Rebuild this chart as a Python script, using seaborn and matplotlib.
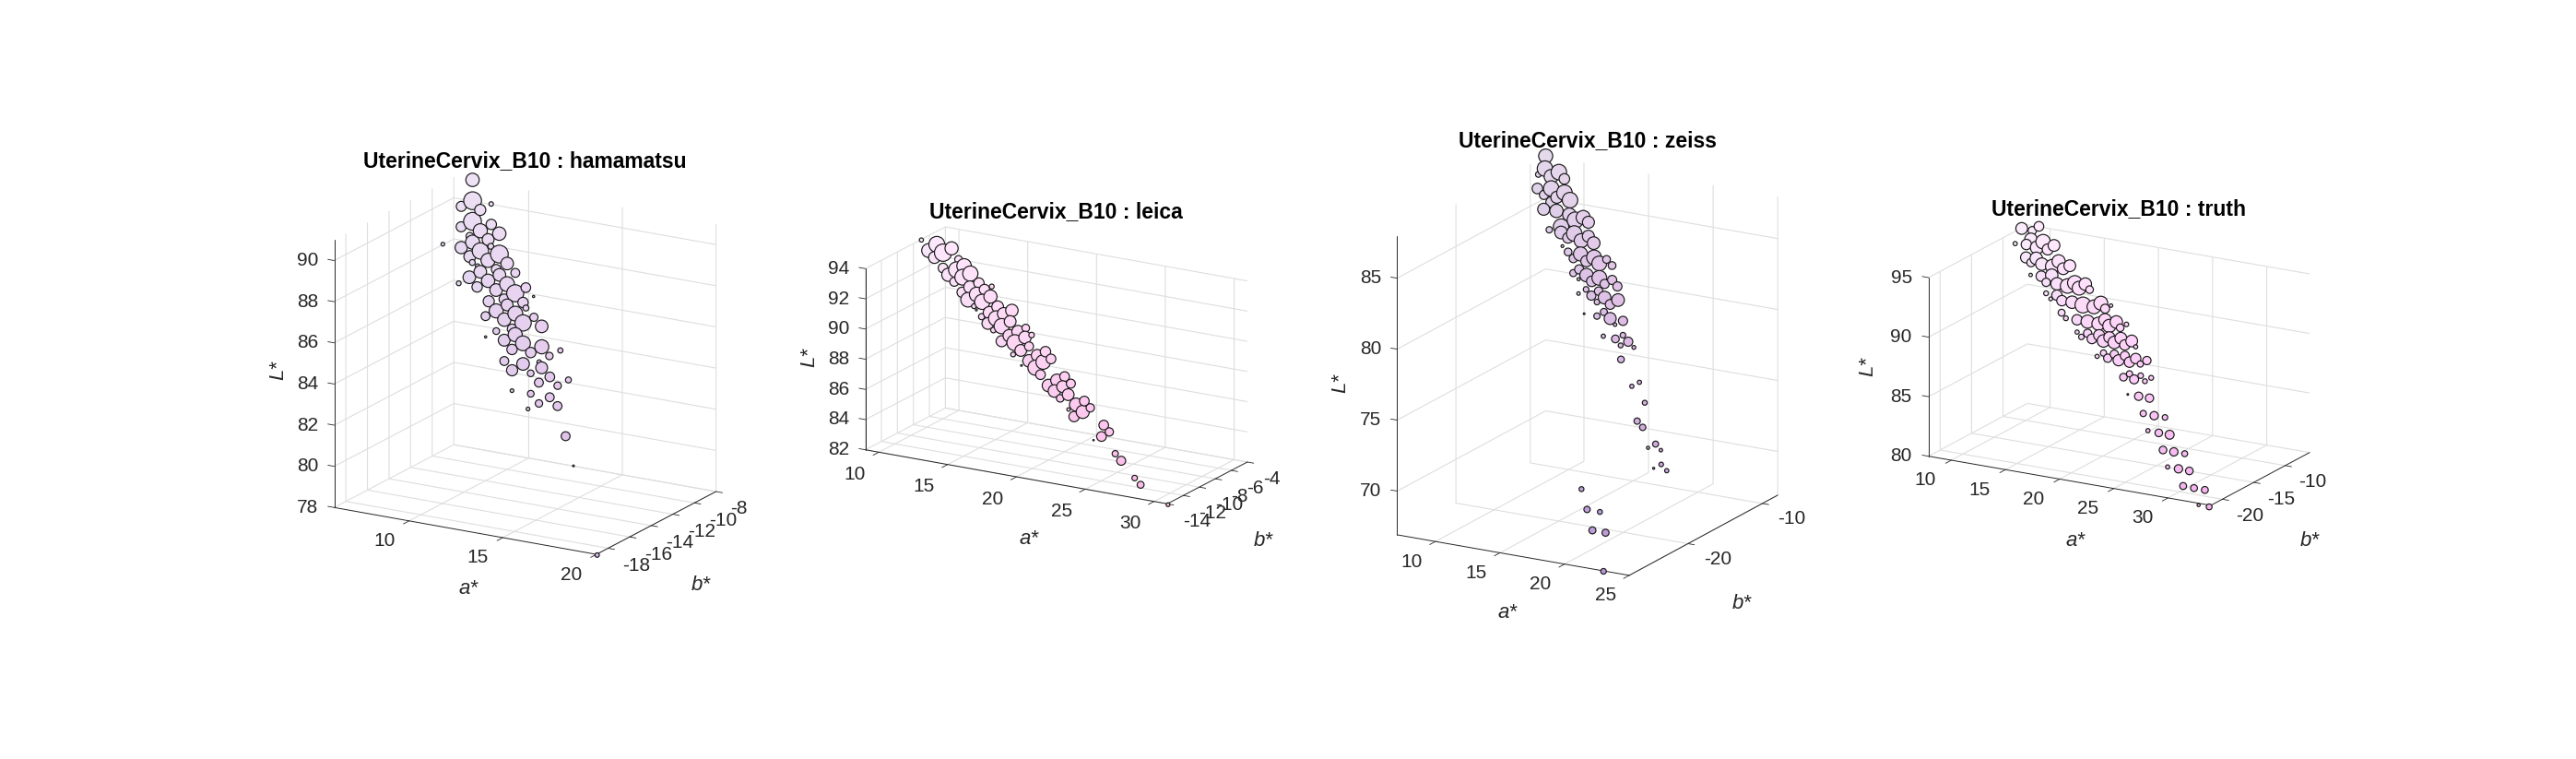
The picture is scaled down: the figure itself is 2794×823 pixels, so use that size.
import numpy as np
import matplotlib
matplotlib.use('Agg')
import matplotlib.pyplot as plt
import seaborn as sns
from mpl_toolkits.mplot3d import proj3d

W, H = 2794, 823
sns.set_theme(style='white', rc={'grid.color': '#dedede', 'grid.linewidth': 0.8, 'xtick.color': '#262626',
                                 'ytick.color': '#262626', 'axes.edgecolor': '#262626',
                                 'xtick.major.width': 0.6, 'ytick.major.width': 0.6})
plt.rcParams['font.family'] = ['Liberation Sans', 'DejaVu Sans']

# hamamatsu
a1 = [7,7.35,8.4,6.86,7.93,7.69,7.2,8.75,8.28,9.35,7.83,8.04,8.87,6.51,7.55,8.63,9.7,9.13,8.18,9.21,10.29,8.37,8.71,8.97,9.76,10.05,10.84,8.5,8.05,9.56,10.63,9.09,11.69,10.16,11.18,12.22,10.71,9.94,11.77,10.98,12.04,10.51,11.59,10,12.64,11.06,12.12,13.17,11.65,10.86,11.93,10.35,11.4,12.46,13.52,14.57,11.99,13.05,14.1,11.75,12.81,13.67,13.86,12.34,13.39,14.47,15.52,14,15.06,12.68,13.74,14.81,14.35,15.4,13.88,16.35,17.23,20.05]
b1 = [-8,-8.6,-8.7,-8.8,-8.9,-9.2,-9.4,-9.3,-9.5,-9.6,-9.7,-9.8,-9.8,-9.9,-10,-10.1,-10.2,-10,-10.3,-10.4,-10.5,-10.4,-10.5,-10.7,-10.6,-10.8,-10.7,-10.9,-11.1,-11,-11.1,-11.2,-11.2,-11.3,-11.3,-11.4,-11.5,-11.6,-11.6,-11.7,-11.8,-11.9,-12,-12,-12.1,-12.1,-12.2,-12.3,-12.4,-12.5,-12.6,-12.6,-12.7,-12.8,-12.9,-13,-13,-13.1,-13.2,-13.3,-13.4,-13.4,-13.5,-13.6,-13.7,-13.8,-13.9,-14,-14.1,-14.2,-14.3,-14.4,-14.6,-14.7,-14.8,-15.6,-16.4,-19.1]
l1 = [91.03,90.24,90.28,89.94,89.97,89.46,89.17,89.51,89.18,89.24,88.9,88.67,88.93,88.35,88.38,88.42,88.47,88.7,88.13,88.14,88.19,87.9,87.81,87.63,87.85,87.68,87.88,87.34,87.03,87.37,87.41,87.05,87.44,87.1,87.11,87.15,86.8,86.6,86.84,86.62,86.67,86.31,86.38,86,86.4,86.03,86.07,86.1,85.76,85.55,85.58,85.21,85.25,85.3,85.33,85.35,84.98,85.03,85.06,84.46,84.52,84.75,84.53,84.19,84.24,84.27,84.32,83.97,84.02,83.42,83.47,83.5,83.18,83.25,82.89,82.19,81.11,77.98]
n1 = [36,48,12,27,30,48,27,28,38,36,20,38,32,10,33,44,48,16,32,38,34,16,12,34,26,34,24,34,13,36,40,28,26,34,46,6,28,30,28,32,16,38,40,24,22,36,44,34,26,18,38,6,32,40,38,14,28,28,20,24,34,12,32,30,18,26,16,24,20,10,18,24,20,24,10,24,5,12]

# leica
a2 = [9.02,11.33,10.2,9.72,10.77,10.26,12.01,12.53,11,12.04,13.1,11.5,12.61,12.05,13.84,14.83,13.25,14.36,12.8,13.85,14.91,13.34,14.37,13.83,14.06,15.61,16.7,15.07,16.16,14.56,15.67,16.75,15.13,16.19,17.94,15.65,17.44,18.48,16.86,18.06,16.42,17.38,18.47,17.93,19.78,17.43,19.18,20.24,18.7,19.73,18.21,19.29,19.77,21.52,21.02,22.09,20.46,21.55,21.01,22.07,21.55,23.36,22.76,23.85,22.33,23.36,22.85,25.12,25.64,25.13,24.61,26.42,26.91,28.18,28.73,31.01]
b2 = [-7,-7.2,-7.1,-7.3,-7.3,-7.5,-7.5,-7.7,-7.7,-7.8,-7.9,-7.9,-8,-8.1,-8.1,-8.2,-8.2,-8.3,-8.4,-8.4,-8.5,-8.6,-8.6,-8.7,-8.8,-8.8,-8.9,-8.9,-9,-9,-9.1,-9.2,-9.2,-9.3,-9.3,-9.4,-9.4,-9.5,-9.5,-9.6,-9.7,-9.7,-9.8,-9.9,-10,-10,-10,-10.1,-10.2,-10.2,-10.3,-10.4,-10.6,-10.6,-10.7,-10.8,-10.8,-10.9,-11,-11.1,-11.2,-11.3,-11.3,-11.4,-11.5,-11.5,-11.7,-11.9,-12.1,-12.2,-12.3,-12.7,-12.8,-13.3,-13.5,-14]
l2 = [93.96,93.84,93.89,93.46,93.49,93.14,93.3,93.01,92.62,92.7,92.65,92.31,92.36,91.99,92.2,92.16,91.86,91.91,91.5,91.53,91.59,91.15,91.18,90.83,90.65,91.11,91.07,90.66,90.79,90.34,90.43,90.43,90.04,90.06,90.22,89.74,89.93,89.9,89.59,89.7,89.21,89.27,89.23,88.9,89.15,88.58,88.81,88.77,88.42,88.51,88.06,88.12,87.79,87.95,87.65,87.63,87.24,87.37,87.02,86.98,86.68,86.82,86.49,86.48,86.15,86.16,85.82,85.68,85.37,85.01,84.71,84.22,83.86,83.06,82.76,81.95]
n2 = [12,38,46,40,50,34,22,42,28,46,44,38,46,26,30,14,36,30,30,42,38,42,44,14,6,34,36,36,36,18,44,34,34,44,22,16,36,16,36,36,32,46,26,34,30,14,34,28,36,42,5,44,28,28,36,26,36,34,36,34,22,28,38,24,10,38,30,28,24,28,4,18,26,16,20,11]

# zeiss
a3 = [7.08,7.37,8.56,7.03,8.08,9.16,7.36,8.43,9.51,8.04,9.09,10.17,8.77,8.42,9.41,10.52,11.65,11.15,12.23,9.37,10.23,10.4,11.42,12.57,11.05,12.19,13.21,10.85,11.46,12.48,13.64,12.04,13.11,14.67,14.22,15.21,12.78,12.44,13.02,13.52,14.57,15.62,14.1,15.15,16.2,13.89,14.92,13.42,14.47,15.55,16.65,15.08,16.16,14.43,15.48,15.9,16.56,17.61,17.11,16.49,17.54,18.01,18.59,18.12,19.2,18.49,20.55,20.08,21.54,21.47,22.07,23.53,23.06,24.11,24.54,24.07,25.14,19.06,20.01,21.12,21,22.13,23.01]
b3 = [-8,-8.6,-8.8,-8.9,-9,-9.1,-9.6,-9.6,-9.7,-9.9,-10,-10.1,-10.2,-10.6,-10.6,-10.8,-10.9,-11.1,-11.2,-11.5,-11.4,-11.7,-11.7,-11.8,-11.9,-12.1,-12.2,-12.3,-12.6,-12.7,-12.9,-12.9,-13,-13,-13.2,-13.2,-13.4,-13.6,-13.9,-13.7,-13.8,-13.9,-14,-14.1,-14.2,-14.4,-14.5,-14.6,-14.7,-14.8,-14.9,-15,-15.1,-15.6,-15.7,-15.5,-15.8,-15.9,-16.1,-16.6,-16.8,-16.6,-16.9,-17.1,-17.2,-17.7,-18.8,-19,-19.8,-20.7,-21,-21.8,-22,-22.1,-22.8,-23,-23.1,-24,-24.9,-25.1,-25.9,-26.1,-27.9]
l3 = [87.98,87.31,87.31,86.93,86.98,87.01,86.19,86.36,86.27,85.93,85.96,85.96,85.63,85.18,85.22,85.19,85.2,84.99,85.04,84.14,84.47,84.17,84.26,84.28,83.95,83.99,84.01,83.45,83.22,83.27,83.27,82.94,82.95,83.32,83.02,83.03,82.43,82.17,81.92,82.23,82.23,82.28,81.97,81.98,82,81.48,81.55,81.17,81.22,81.28,81.31,80.95,80.98,80.19,80.22,80.52,80.25,80.28,79.99,79.22,79.25,79.53,79.25,78.97,79.03,78.21,77.24,76.94,76.24,75.19,74.93,74.21,73.93,73.96,73.22,72.93,72.96,70.95,69.92,69.98,68.89,68.96,66.89]
n3 = [40,44,44,16,40,30,30,44,44,26,34,44,30,34,38,38,40,46,34,18,44,36,44,34,30,40,36,8,22,40,42,24,32,22,42,22,26,20,9,38,42,26,30,26,26,16,24,10,26,36,36,16,28,5,18,20,34,26,10,12,22,16,26,14,11,19,12,12,14,18,18,17,9,10,13,6,12,14,18,14,20,20,16]

# truth
a4 = [7.48,9.01,8.57,7.4,8.43,8.68,9.92,9.52,11.04,10.58,8.81,9.44,9.81,10.5,11.99,11.53,13.14,12.65,9.81,10.85,11.48,11.76,14.18,12.54,15.15,13.57,14.75,15.72,11.82,12.88,12.48,13.57,14.51,17.22,15.63,16.7,18.22,17.79,13.89,14.46,15.55,16.58,18.13,17.64,19.23,18.76,20.28,19.82,15.96,16.99,16.53,17.56,18.11,19.11,20.17,18.68,21.29,19.74,20.77,21.83,18.62,19.09,20.09,19.66,21.12,22.24,20.72,21.78,23.33,22.84,21.69,22.13,22.73,23.22,23.79,24.25,22.67,23.73,24.79,24.68,25.8,26.86,25.69,26.75,27.81,27.72,28.78,29.84,28.67,29.73,30.79,30.74,31.8,32.86,32.75,33.78]
b4 = [-6.3,-6.2,-6.5,-7.2,-7.2,-6.9,-7.1,-7.4,-7.3,-7.5,-7.9,-8.2,-8,-8.3,-8.2,-8.4,-8.4,-8.6,-8.9,-9,-9.3,-8.9,-9.4,-9.4,-9.4,-9.5,-9.7,-9.7,-9.9,-10,-10.3,-10.4,-10.4,-10.5,-10.6,-10.7,-10.6,-10.8,-11,-11.3,-11.4,-11.5,-11.4,-11.6,-11.5,-11.8,-11.7,-11.9,-12.1,-12.2,-12.4,-12.5,-12.3,-12.4,-12.4,-12.6,-12.6,-12.7,-12.8,-12.9,-13.5,-13.3,-13.3,-13.6,-13.4,-13.6,-13.7,-13.8,-13.7,-13.9,-14.6,-14.4,-14.7,-14.5,-14.8,-14.6,-15.6,-15.7,-15.8,-16.6,-16.8,-16.9,-17.6,-17.7,-17.8,-18.7,-18.8,-18.9,-19.6,-19.7,-19.8,-20.7,-20.8,-20.9,-21.7,-21.8]
l4 = [94.67,95.06,94.71,93.64,93.73,94.12,94.17,93.7,94.09,93.74,92.9,92.65,93.01,92.72,93.16,92.73,93.03,92.76,91.87,91.96,91.63,92.16,92.04,91.7,92.09,91.71,91.77,91.8,90.93,90.97,90.68,90.73,90.75,91.13,90.75,90.79,91.11,90.84,89.94,89.65,89.72,89.76,90.13,89.78,90.15,89.83,90.17,89.87,88.95,89.04,88.72,88.75,89.09,89.1,89.19,88.78,89.19,88.85,88.83,88.87,87.73,88.03,88.09,87.77,88.15,88.15,87.79,87.83,88.18,87.87,86.78,87.07,86.79,87.12,86.83,87.13,85.77,85.81,85.85,84.77,84.82,84.87,83.77,83.78,83.82,82.78,82.82,82.86,81.76,81.8,81.82,80.8,80.82,80.86,79.8,79.84]
n4 = [34,28,24,12,30,36,42,38,34,32,32,24,36,36,38,40,34,34,10,30,24,36,42,36,36,42,40,22,14,30,11,30,36,40,46,40,10,26,20,14,30,38,36,38,36,38,13,22,12,24,16,28,32,32,34,36,34,36,30,12,12,18,24,24,26,30,32,30,24,18,22,18,26,16,14,14,5,24,24,18,24,16,12,22,26,22,24,17,12,24,22,20,20,20,9,17]

# corners of the box in picture pixels, offsets of the labels, text centres
panels = [
    dict(name='hamamatsu', a=a1, b=b1, l=l1, n=n1, k=2.613, alim=(6, 20), blim=(-19.08, -8), llim=(78, 91),
         left=(362.5, 550.3), front=(646.9, 601.1), right=(776.6, 533), top=(362.5, 260.2),
         aticks=[10, 15, 20], bticks=[-18, -16, -14, -12, -10, -8], lticks=[78, 80, 82, 84, 86, 88, 90],
         aoff=(-27, -22), boff=(16, -19), loff=-17, title=(569.5, 175), alab=(508, 639), blab=(760, 634), llab=(302, 401)),
    dict(name='leica', a=a2, b=b2, l=l2, n=n2, k=2.8, alim=(9.02, 30.96), blim=(-14, -4), llim=(82, 94),
         left=(938.6, 487.7), front=(1266.1, 546.3), right=(1352.9, 501), top=(938.6, 291.3),
         aticks=[10, 15, 20, 25, 30], bticks=[-14, -12, -10, -8, -6, -4], lticks=[82, 84, 86, 88, 90, 92, 94],
         aoff=(-26, -24), boff=(17, -19), loff=-17, title=(1145, 230), alab=(1116, 584), blab=(1370, 587), llab=(878, 388)),
    dict(name='zeiss', a=a3, b=b3, l=l3, n=n3, k=2.75, alim=(7.04, 25), blim=(-27.9, -7.93), llim=(66.92, 87.96),
         left=(1515.4, 579.9), front=(1767.1, 623.9), right=(1928.2, 536.9), top=(1515.4, 256.1),
         aticks=[10, 15, 20, 25], bticks=[-20, -10], lticks=[70, 75, 80, 85],
         aoff=(-26, -22), boff=(17, -17), loff=-17, title=(1722, 153), alab=(1635, 664), blab=(1889, 654), llab=(1454, 416)),
    dict(name='truth', a=a4, b=b4, l=l4, n=n4, k=2.8, alim=(7.9, 33.95), blim=(-21.83, -6.13), llim=(80, 95),
         left=(2091.8, 494.7), front=(2397.9, 548), right=(2505, 490.7), top=(2091.8, 301),
         aticks=[10, 15, 20, 25, 30], bticks=[-20, -15, -10], lticks=[80, 85, 90, 95],
         aoff=(-28, -22), boff=(15, -18), loff=-18, title=(2298, 227), alab=(2251, 587), blab=(2505, 586), llab=(2026, 397)),
]


def lab_to_rgb(L, a, b):
    # the bubbles are filled with their own CIELAB colour (D50)
    fy = (np.asarray(L) + 16) / 116
    fx = fy + np.asarray(a) / 500
    fz = fy - np.asarray(b) / 200
    f = lambda t: np.where(t > 6 / 29, t ** 3, 3 * (6 / 29) ** 2 * (t - 4 / 29))
    X, Y, Z = 0.9642 * f(fx), f(fy), 0.8249 * f(fz)
    r = 3.1339 * X - 1.6170 * Y - 0.4906 * Z
    g = -0.9785 * X + 1.9160 * Y + 0.0333 * Z
    bl = 0.0720 * X - 0.2290 * Y + 1.4057 * Z
    rgb = np.clip(np.stack([r, g, bl], axis=1), 0, 1)
    return np.where(rgb > 0.0031308, 1.055 * rgb ** (1 / 2.4) - 0.055, 12.92 * rgb)


def place(ax, p):
    # view angles and box shape follow from where the box corners should land
    left, front, right, top = [np.array(p[k]) * (1, -1) for k in ('left', 'front', 'right', 'top')]
    ea, eb, ez = front - left, right - front, top - left
    ra, rb = ea[1] / ea[0], eb[1] / eb[0]
    elev = np.arcsin(np.sqrt(-ra * rb))
    azim = -np.arctan(np.sqrt(rb / -ra))
    sx, sy, sz = ea[0] / -np.sin(azim), eb[0] / np.cos(azim), ez[1] / np.cos(elev)
    ax.set_proj_type('ortho')
    ax.view_init(elev=np.degrees(elev), azim=np.degrees(azim))
    ax.set_xlim(*p['alim'], view_margin=0)
    ax.set_ylim(*p['blim'], view_margin=0)
    ax.set_zlim(*p['llim'], view_margin=0)
    ax.set_box_aspect((sx, sy, sz))
    a0, a1_ = p['alim']; b0, b1_ = p['blim']; l0, l1_ = p['llim']
    cx = np.array([a0, a1_, a1_, a0]); cy = np.array([b0, b0, b1_, b0]); cz = np.array([l0, l0, l0, l1_])
    x2, y2, _ = proj3d.proj_transform(cx, cy, cz, ax.get_proj())
    vl = ax.viewLim
    u = (x2 - vl.x0) / vl.width
    v = (y2 - vl.y0) / vl.height
    tx = np.array([p['left'][0], p['front'][0], p['right'][0], p['top'][0]])
    ty = H - np.array([p['left'][1], p['front'][1], p['right'][1], p['top'][1]])
    A = np.vstack([np.c_[np.ones(4), np.zeros(4), u], np.c_[np.zeros(4), np.ones(4), v]])
    x0, y0, S = np.linalg.lstsq(A, np.r_[tx, ty], rcond=None)[0]
    ax.set_position([x0 / W, y0 / H, S / W, S / H])
    return np.hypot(*ea), np.hypot(*eb)


def tick_label(ax, M, xyz, txt, off, ha):
    x2, y2, _ = proj3d.proj_transform(*xyz, M)
    ax.annotate(txt, (x2, y2), xytext=off, textcoords='offset pixels', ha=ha, va='center',
                fontsize=15, color='#262626', annotation_clip=False)


fig = plt.figure(figsize=(W / 100, H / 100), dpi=100)
for p in panels:
    ax = fig.add_subplot(projection='3d')
    len_a, len_b = place(ax, p)
    a, b, L = np.array(p['a']), np.array(p['b']), np.array(p['l'])
    size = (np.array(p['n'], float) * 1.05 / p['k'] * 0.72) ** 2
    ax.scatter(a, b, L, s=size, c=lab_to_rgb(L, a, b), edgecolors='#1a1a1a', linewidths=0.85, depthshade=False)

    ax.set_xticks(p['aticks']); ax.set_yticks(p['bticks']); ax.set_zticks(p['lticks'])
    ax.set_xticklabels([]); ax.set_yticklabels([]); ax.set_zticklabels([])
    ax.zaxis._axinfo['juggled'] = (1, 2, 0)  # L axis on the left edge
    for axis, ln, sign in zip((ax.xaxis, ax.yaxis, ax.zaxis), (len_b, len_a, len_a), (-1, -1, 1)):
        axis.pane.set_visible(False)
        axis.line.set_color('#262626')
        axis.line.set_linewidth(0.7)
        axis._axinfo['tick']['inward_factor'] = 0
        axis._axinfo['tick']['outward_factor'] = sign * 7 / (0.08 * ln)
        axis._axinfo['tick']['linewidth'] = {True: 0.6, False: 0.6}

    M = ax.get_proj()
    for v in p['lticks']:
        tick_label(ax, M, (p['alim'][0], p['blim'][0], v), str(v), (p['loff'], 0), 'right')
    for v in p['aticks']:
        tick_label(ax, M, (v, p['blim'][0], p['llim'][0]), str(v), p['aoff'], 'center')
    for v in p['bticks']:
        tick_label(ax, M, (p['alim'][1], v, p['llim'][0]), str(v), p['boff'], 'left')

    fig.text(p['title'][0] / W, 1 - p['title'][1] / H, 'UterineCervix_B10 : ' + p['name'], ha='center', va='center',
             fontsize=16.5, fontweight='bold', color='black')
    for txt, xy, rot in (('a*', p['alab'], 0), ('b*', p['blab'], 0), ('L*', p['llab'], 90)):
        fig.text(xy[0] / W, 1 - xy[1] / H, txt, ha='center', va='center', rotation=rot, fontsize=16, style='italic', color='#262626')

fig.savefig('out.png', dpi=100)
